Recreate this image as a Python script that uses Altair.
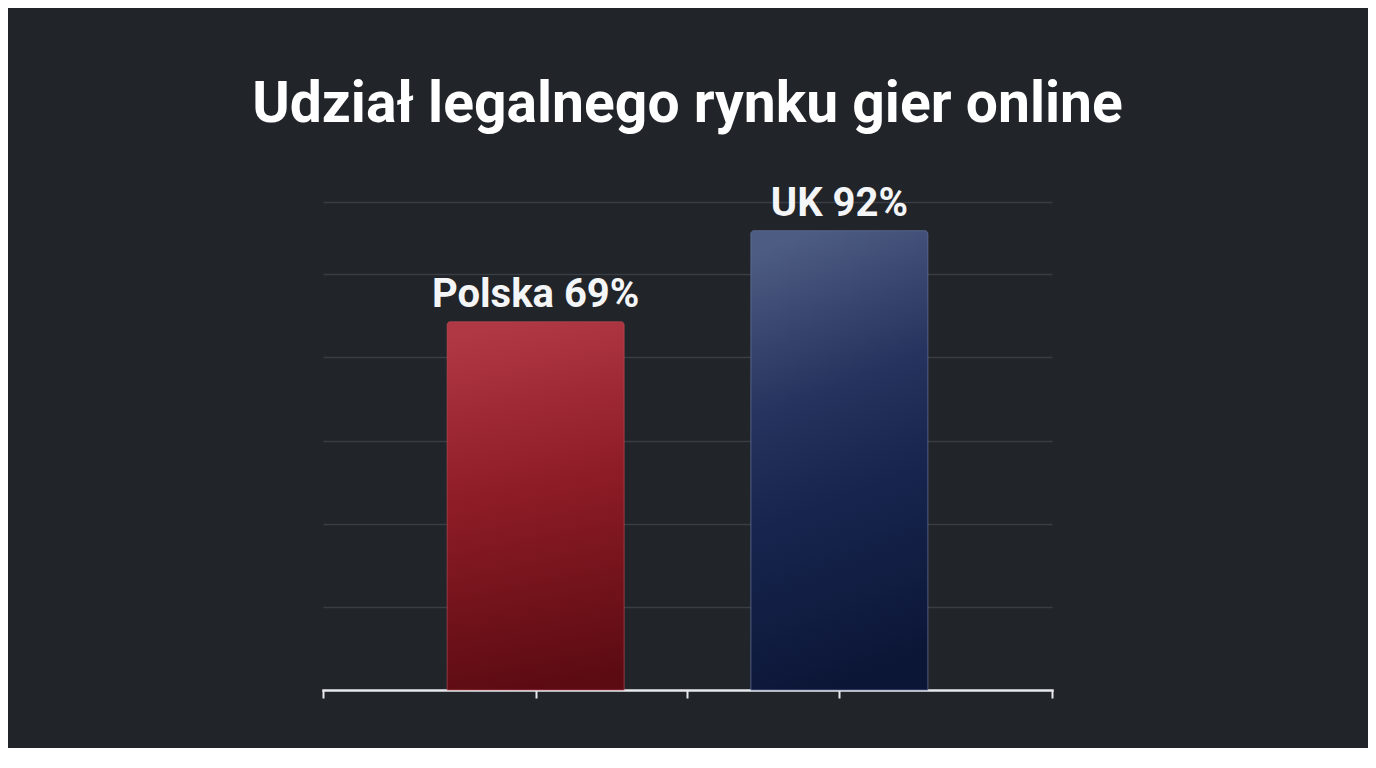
import altair as alt
import pandas as pd

# ---- data ----
countries = ["Polska", "UK"]
shares = [69, 92]
title_text = "Udział legalnego rynku gier online"

# y scale: value axis (baseline of the drawn bars and gridline levels)
y_baseline = -24
y_top = 100
grid_values = [-3, 18, 39, 60, 81, 99.3]

# x scale (category slots 1 and 2, axis spans a little beyond them)
x_domain = [0.3, 2.7]
x_tick_values = [0.3, 1, 1.5, 2, 2.7]

df = pd.DataFrame({"country": countries, "share": shares})

base = alt.Chart(df).transform_window(
    idx="row_number()"
).transform_calculate(
    label="datum.country + ' ' + datum.share + '%'"
)

x_enc = alt.X(
    "idx:Q",
    scale=alt.Scale(domain=x_domain, nice=False, zero=False, padding=0),
    axis=alt.Axis(
        values=x_tick_values,
        labels=False,
        title=None,
        grid=False,
        domain=True,
        domainColor="#e6e8ec",
        domainWidth=2.5,
        ticks=True,
        tickColor="#e6e8ec",
        tickWidth=2,
        tickSize=8,
        domainCap="square",
    ),
)

y_scale = alt.Scale(domain=[y_baseline, y_top], nice=False, zero=False)

red_grad = alt.Gradient(
    gradient="linear",
    stops=[
        alt.GradientStop(color="#b03845", offset=0),
        alt.GradientStop(color="#8e1c26", offset=0.45),
        alt.GradientStop(color="#5c0b12", offset=1),
    ],
    x1=0.4, x2=0.5, y1=0, y2=1,
)
blue_grad = alt.Gradient(
    gradient="linear",
    stops=[
        alt.GradientStop(color="#4d5c82", offset=0),
        alt.GradientStop(color="#25335e", offset=0.35),
        alt.GradientStop(color="#17244d", offset=0.6),
        alt.GradientStop(color="#0b1636", offset=1),
    ],
    x1=0.35, x2=0.5, y1=0, y2=1,
)

grid = base.mark_bar(opacity=0).encode(
    x=x_enc,
    y=alt.Y(
        "share:Q",
        scale=y_scale,
        axis=alt.Axis(
            values=grid_values,
            labels=False,
            ticks=False,
            domain=False,
            title=None,
            grid=True,
            gridColor="#393d45",
            gridWidth=1.5,
        ),
    ),
    y2=alt.datum(y_baseline),
)

bar_red = base.transform_filter(alt.datum.country == "Polska").mark_bar(
    width=177, color=red_grad, cornerRadiusTopLeft=3, cornerRadiusTopRight=3,
    stroke="#c0505a", strokeWidth=1, strokeOpacity=0.6,
).encode(x=x_enc, y=alt.Y("share:Q", scale=y_scale), y2=alt.datum(y_baseline))

bar_blue = base.transform_filter(alt.datum.country == "UK").mark_bar(
    width=177, color=blue_grad, cornerRadiusTopLeft=3, cornerRadiusTopRight=3,
    stroke="#6675a0", strokeWidth=1, strokeOpacity=0.7,
).encode(x=x_enc, y=alt.Y("share:Q", scale=y_scale), y2=alt.datum(y_baseline))

labels = base.mark_text(
    font="Roboto", fontWeight="bold", fontSize=40, color="#f4f5f7",
    baseline="alphabetic", align="center", dy=-15,
).encode(x=x_enc, y=alt.Y("share:Q", scale=y_scale), text="label:N")

chart = alt.layer(grid, bar_red, bar_blue, labels).properties(
    width=729,
    height=491,
    autosize=alt.AutoSizeParams(type="none"),
    padding={"left": 315, "top": 191, "right": 316, "bottom": 58},
    background="#212429",
    title=alt.TitleParams(
        text=title_text,
        font="Roboto",
        fontWeight="bold",
        fontSize=57,
        color="#ffffff",
        anchor="middle",
        offset=50,
    ),
).configure_view(stroke=None)

chart.save("out.html", embed_options={"renderer": "svg", "actions": False})
